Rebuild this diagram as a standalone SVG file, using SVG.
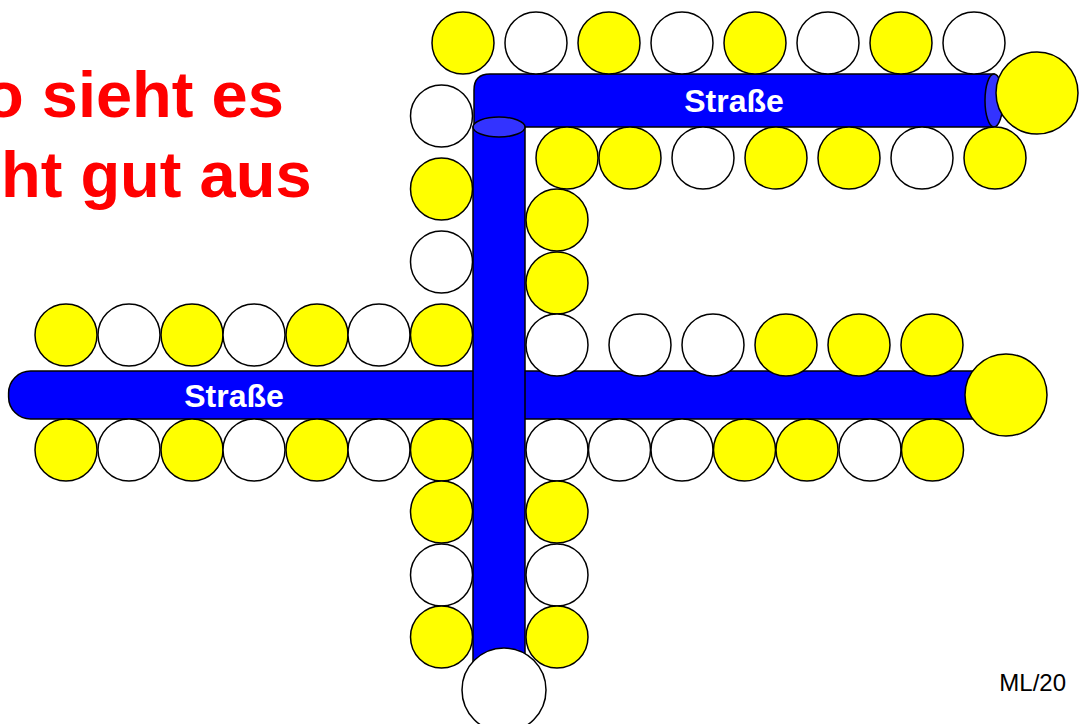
<svg xmlns="http://www.w3.org/2000/svg" width="1080" height="724" viewBox="0 0 1080 724">
<style>
.road{fill:#0000FF;stroke:#000;stroke-width:1.5}
.cap{fill:#3333FF;stroke:#000;stroke-width:1.5}
.y{fill:#FFFF00;stroke:#000;stroke-width:1.5}
.w{fill:#FFFFFF;stroke:#000;stroke-width:1.5}
.lbl{font-family:"Liberation Sans",Arial,sans-serif;font-weight:bold;font-size:32px;fill:#FFFFFF;text-anchor:middle}
.title{font-family:"Liberation Sans",Arial,sans-serif;font-weight:bold;font-size:65px;fill:#FF0000}
.foot{font-family:"Liberation Sans",Arial,sans-serif;font-size:24px;fill:#000;text-anchor:end}
</style>
<rect width="1080" height="724" fill="#FFFFFF"/>
<g id="title">
<text class="title" x="-16" y="117">o sieht es</text>
<text class="title" x="1" y="197">ht gut aus</text>
</g>
<g id="roads">
<g id="road-horizontal">
<rect class="road" x="8.6" y="371" width="992" height="48" rx="22" ry="22"/>
<text class="lbl" x="234" y="407">Straße</text>
</g>
<g id="road-top">
<path class="road" d="M474,127 V90 Q474,74 490,74 H994 V127 Z"/>
<ellipse class="cap" cx="994" cy="100.5" rx="9" ry="26.5"/>
<text class="lbl" x="734" y="112">Straße</text>
</g>
<g id="road-vertical">
<rect class="road" x="473" y="127" width="52" height="545"/>
<ellipse class="cap" cx="499" cy="127" rx="26" ry="10"/>
</g>
</g>
<g id="houses">
<g id="row-top">
<circle class="y" cx="463" cy="43" r="31"/>
<circle class="w" cx="536" cy="43" r="31"/>
<circle class="y" cx="609" cy="43" r="31"/>
<circle class="w" cx="682" cy="43" r="31"/>
<circle class="y" cx="755" cy="43" r="31"/>
<circle class="w" cx="828" cy="43" r="31"/>
<circle class="y" cx="901" cy="43" r="31"/>
<circle class="w" cx="974" cy="43" r="31"/>
<circle class="y" cx="1037" cy="93" r="41"/>
</g>
<g id="row-top-below">
<circle class="y" cx="567" cy="158" r="31"/>
<circle class="y" cx="630" cy="158" r="31"/>
<circle class="w" cx="703" cy="158" r="31"/>
<circle class="y" cx="776" cy="158" r="31"/>
<circle class="y" cx="849" cy="158" r="31"/>
<circle class="w" cx="922" cy="158" r="31"/>
<circle class="y" cx="995" cy="158" r="31"/>
</g>
<g id="column-left-upper">
<circle class="w" cx="441.5" cy="116" r="31"/>
<circle class="y" cx="441.5" cy="189" r="31"/>
<circle class="w" cx="441.5" cy="262" r="31"/>
</g>
<g id="column-right-upper">
<circle class="y" cx="557" cy="220" r="31"/>
<circle class="y" cx="557" cy="283" r="31"/>
</g>
<g id="row-left-upper">
<circle class="y" cx="66" cy="335" r="31"/>
<circle class="w" cx="129" cy="335" r="31"/>
<circle class="y" cx="192" cy="335" r="31"/>
<circle class="w" cx="254" cy="335" r="31"/>
<circle class="y" cx="317" cy="335" r="31"/>
<circle class="w" cx="379" cy="335" r="31"/>
<circle class="y" cx="441.5" cy="335" r="31"/>
</g>
<g id="row-left-lower">
<circle class="y" cx="66" cy="450" r="31"/>
<circle class="w" cx="129" cy="450" r="31"/>
<circle class="y" cx="192" cy="450" r="31"/>
<circle class="w" cx="254" cy="450" r="31"/>
<circle class="y" cx="317" cy="450" r="31"/>
<circle class="w" cx="379" cy="450" r="31"/>
<circle class="y" cx="441.5" cy="450" r="31"/>
</g>
<g id="row-right-upper">
<circle class="w" cx="557" cy="345" r="31"/>
<circle class="w" cx="640" cy="345" r="31"/>
<circle class="w" cx="713" cy="345" r="31"/>
<circle class="y" cx="786" cy="345" r="31"/>
<circle class="y" cx="859" cy="345" r="31"/>
<circle class="y" cx="932" cy="345" r="31"/>
</g>
<g id="row-right-lower">
<circle class="w" cx="557" cy="450" r="31"/>
<circle class="w" cx="619.5" cy="450" r="31"/>
<circle class="w" cx="682" cy="450" r="31"/>
<circle class="y" cx="744.5" cy="450" r="31"/>
<circle class="y" cx="807" cy="450" r="31"/>
<circle class="w" cx="870" cy="450" r="31"/>
<circle class="y" cx="932.5" cy="450" r="31"/>
<circle class="y" cx="1006" cy="395" r="41"/>
</g>
<g id="column-left-lower">
<circle class="y" cx="441.5" cy="512" r="31"/>
<circle class="w" cx="441.5" cy="575" r="31"/>
<circle class="y" cx="441.5" cy="637" r="31"/>
</g>
<g id="column-right-lower">
<circle class="y" cx="557" cy="512" r="31"/>
<circle class="w" cx="557" cy="575" r="31"/>
<circle class="y" cx="557" cy="637" r="31"/>
</g>
<g id="end-bottom">
<circle class="w" cx="504" cy="690" r="42"/>
</g>
</g>
<g id="footer">
<text class="foot" x="1066" y="691">ML/20</text>
</g>
</svg>
